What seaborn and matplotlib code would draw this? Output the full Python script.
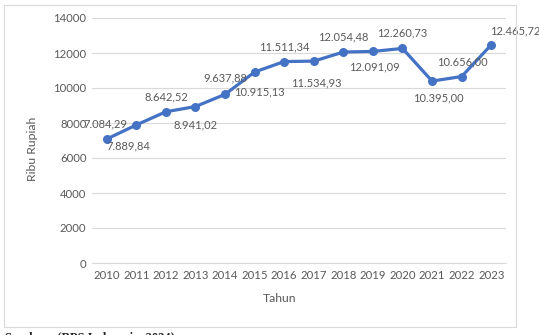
import matplotlib
matplotlib.use("Agg")
import matplotlib.pyplot as plt
import seaborn as sns
import pandas as pd
from matplotlib.patches import Rectangle

years = ["2010", "2011", "2012", "2013", "2014", "2015", "2016",
         "2017", "2018", "2019", "2020", "2021", "2022", "2023"]
values = [7084.29, 7889.84, 8642.52, 8941.02, 9637.88, 10915.13, 11511.34,
          11534.93, 12054.48, 12091.09, 12260.73, 10395.00, 10656.00, 12465.72]
labels = ["7.084,29", "7.889,84", "8.642,52", "8.941,02", "9.637,88", "10.915,13",
          "11.511,34", "11.534,93", "12.054,48", "12.091,09", "12.260,73",
          "10.395,00", "10.656,00", "12.465,72"]
# label offsets in pixels (dx, dy) relative to each point (screen, y up)
offsets = [(-1, 15), (-8, -21), (0, 15), (0, -18), (0, 16), (5, -20), (0, 15),
           (3, -22), (0, 15), (2, -16), (0, 16), (6, -17), (1, 15), (24, 14)]

df = pd.DataFrame({"Tahun": years, "Nilai": values})

sns.set_theme(style="white")
plt.rcParams['font.family'] = ['Lato', 'DejaVu Sans']

W, H = 539, 335
fig = plt.figure(figsize=(W / 100, H / 100), dpi=100)
ax = fig.add_axes([92 / W, 1 - 263 / H, (506 - 92) / W, (263 - 18) / H])

gray = "#595959"
blue = "#4472C4"

sns.lineplot(data=df, x="Tahun", y="Nilai", ax=ax, color=blue, linewidth=2.3,
             marker="o", markersize=6.5, markeredgewidth=0, sort=False)

ax.set_ylim(0, 14000)
ax.set_xlim(-0.5, len(years) - 0.5)
ax.set_yticks(range(0, 14001, 2000))
ax.set_yticklabels([str(v) for v in range(0, 14001, 2000)])
ax.grid(axis="y", color="#d9d9d9", linewidth=0.8)
ax.set_axisbelow(True)
for s in ["top", "right", "left"]:
    ax.spines[s].set_visible(False)
ax.spines["bottom"].set_color("#d9d9d9")
ax.spines["bottom"].set_linewidth(0.8)
ax.tick_params(axis="both", length=0, labelsize=8.2, labelcolor=gray)
ax.tick_params(axis="y", pad=4)
ax.tick_params(axis="x", pad=5)
ax.set_xlabel("")
ax.set_ylabel("")

for i, (lab, (dx, dy)) in enumerate(zip(labels, offsets)):
    ax.annotate(lab, (i, values[i]), xytext=(dx, dy), textcoords="offset pixels",
                ha="center", va="center", fontsize=8.0, color=gray)

fig.text(33 / W, 1 - 149 / H, "Ribu Rupiah", rotation=90, ha="center", va="center",
         fontsize=8.8, color=gray)
fig.text(280 / W, 1 - 299 / H, "Tahun", ha="center", va="center",
         fontsize=8.8, color=gray)

fig.patches.append(Rectangle((4 / W, 1 - 327 / H), (516 - 4) / W, (327 - 5) / H,
                             transform=fig.transFigure, fill=False,
                             edgecolor="#d9d9d9", linewidth=0.8))

fig.text(5 / W, 1 - 331 / H, "Sumber : (BPS Indonesia, 2024)", ha="left", va="top",
         fontsize=9, fontweight="bold", color="#222222", family=["Liberation Serif", "DejaVu Serif"])

fig.savefig("out.png", dpi=100)
